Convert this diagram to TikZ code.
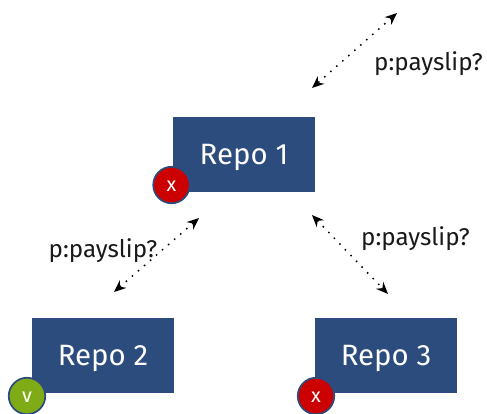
\documentclass[tikz,border=0pt]{standalone}
\usepackage{fontspec}
\setmainfont{Fira Sans}
\usetikzlibrary{arrows.meta}
\definecolor{repoblue}{HTML}{2C4C7E}
\definecolor{badred}{HTML}{CC0000}
\definecolor{badgreen}{HTML}{7FAB16}
\newcommand{\lowered}[2]{\raisebox{-#1}[0pt][0pt]{#2}}
\tikzset{
  x=1pt,y=-1pt,
  repo/.style={fill=repoblue,draw=none,minimum width=142pt,minimum height=75pt,inner sep=0pt,text=white,font=\fontsize{29.4}{32}\selectfont},
  badge/.style={circle,draw=repoblue,line width=1.7pt,minimum size=36.5pt,inner sep=0pt,text=white,font=\fontsize{20}{24}\selectfont},
  lbl/.style={inner sep=0pt,text=black!90,font=\fontsize{24.2}{28}\selectfont},
  link/.style={line width=1.5pt,dash pattern=on 1.5pt off 6.5pt,{Stealth[length=12pt,width=10pt]}-{Stealth[length=12pt,width=10pt]}}
}
\begin{document}
\begin{tikzpicture}
\useasboundingbox (0,0) rectangle (487,413);
\node[repo] (r1) at (244,154.5) {\lowered{9.7pt}{Repo 1}};
\node[repo] (r2) at (103,355.5) {\lowered{10.2pt}{Repo 2}};
\node[repo] (r3) at (386,355.5) {\lowered{10.2pt}{Repo 3}};
\node[badge,fill=badred] (b1) at (171.5,185) {\lowered{6pt}{x}};
\node[badge,fill=badgreen] (b2) at (27,396) {\lowered{6pt}{v}};
\node[badge,fill=badred] (b3) at (316,396) {\lowered{6pt}{x}};
\node[lbl] (l1) at (428.5,64) {p:payslip?};
\node[lbl] (l2) at (103,251) {p:payslip?};
\node[lbl] (l3) at (415.5,239) {p:payslip?};
\coordinate (a1) at (397,13);
\coordinate (a2) at (312,88);
\coordinate (b1a) at (199,218);
\coordinate (b2a) at (114,292);
\coordinate (c1) at (312,215);
\coordinate (c2) at (388,294);
\draw[link] (a1) -- (a2);
\draw[link] (b1a) -- (b2a);
\draw[link] (c1) -- (c2);
\end{tikzpicture}
\end{document}
